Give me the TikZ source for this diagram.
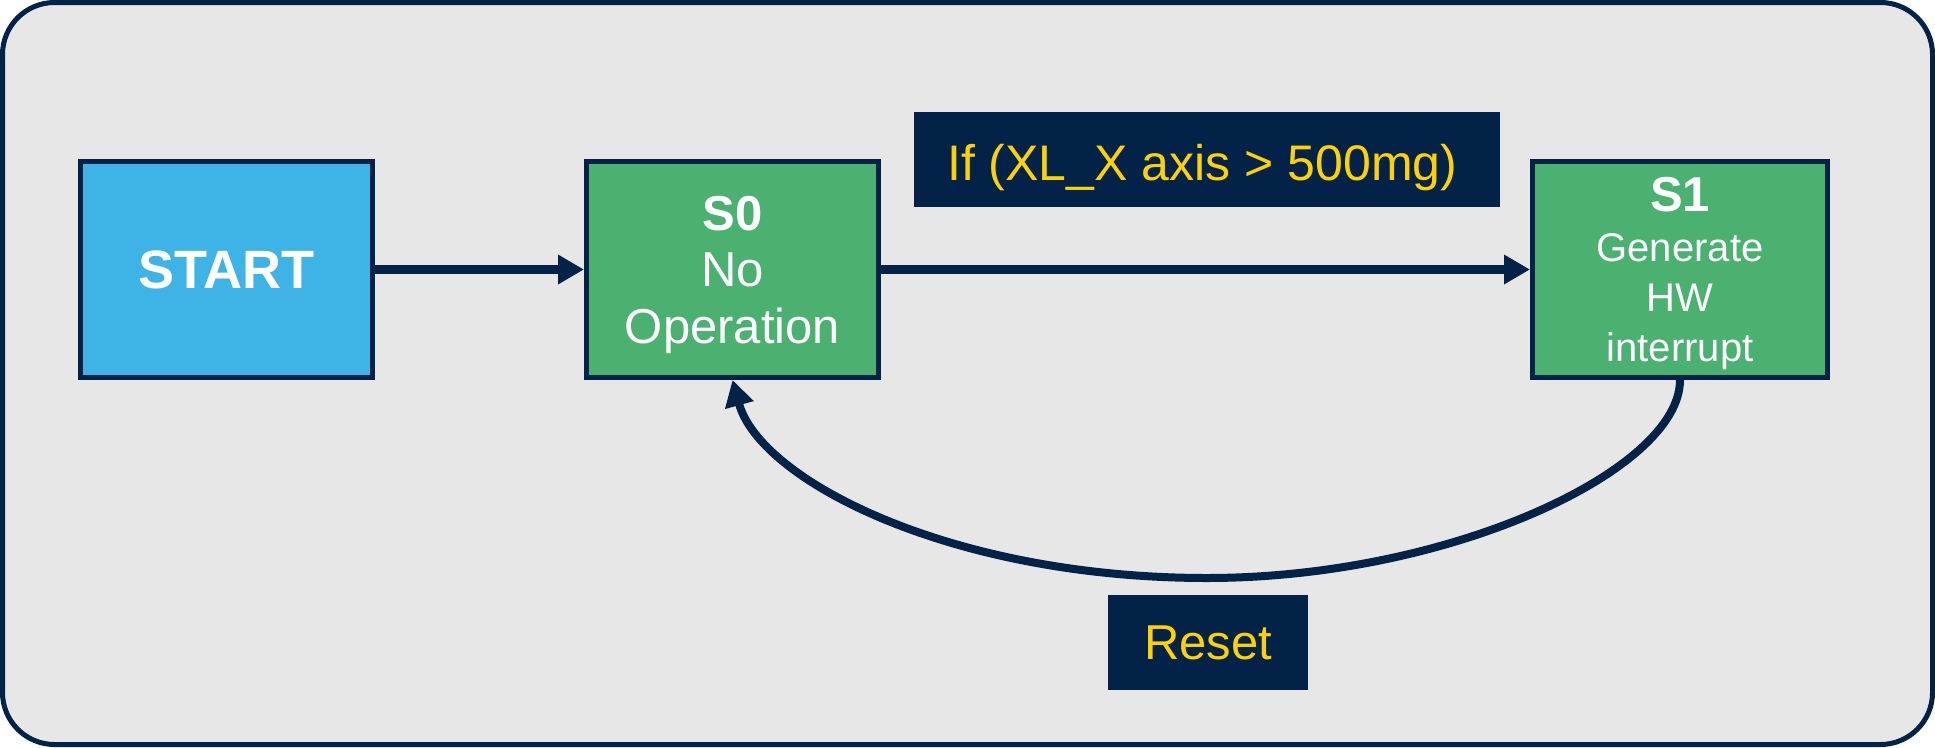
\documentclass[tikz,border=0pt]{standalone}
\usepackage{fontspec}
\setmainfont{Liberation Sans}
\usetikzlibrary{arrows.meta}
\definecolor{navy}{RGB}{2,34,71}
\definecolor{bggray}{RGB}{231,231,231}
\definecolor{startblue}{RGB}{61,180,229}
\definecolor{stategreen}{RGB}{74,177,113}
\definecolor{labelyellow}{RGB}{255,209,0}
\begin{document}
\begin{tikzpicture}[x=1pt,y=-1pt,
  box/.style={draw=navy, line width=5pt, inner sep=0pt, minimum height=216pt, text=white, align=center},
  lab/.style={fill=navy, text=labelyellow, inner sep=0pt, minimum height=95pt, text depth=0pt},
  conn/.style={draw=navy, line width=8.5pt, -{Triangle[length=26pt,width=28pt]}},
  loopconn/.style={draw=navy, line width=8pt, -{Triangle[length=26pt,width=28pt]}}
]
\useasboundingbox (0,0) rectangle (1935,747);
\draw[draw=navy, fill=bggray, line width=5pt, rounded corners=52pt] (2.5,2.5) rectangle (1932.5,744.5);

\node[box, fill=startblue, minimum width=292pt, font=\fontsize{54}{60}\selectfont\bfseries] (start) at (226.5,269.5) {START};
\node[box, fill=stategreen, minimum width=292pt, font=\fontsize{49}{56.5}\selectfont, text depth=0pt] (s0) at (732.5,269.5) {\textbf{S0}\\No\\Operation};
\node[box, fill=stategreen, minimum width=295pt, font=\fontsize{40}{50}\selectfont, text depth=0pt] (s1) at (1680,269.5) {{\fontsize{49}{50}\selectfont\bfseries S1}\\Generate\\HW\\interrupt};

\node[lab, minimum width=586pt] (cond) at (1207,159.5) {};
\node[text=labelyellow, inner sep=0pt, anchor=base west, font=\fontsize{50}{57}\selectfont] (condtext) at (947,180) {If (XL\_X axis > 500mg)};
\node[lab, minimum width=200pt, font=\fontsize{49}{57}\selectfont] (reset) at (1208,642.5) {Reset};

\draw[conn] (start.east) -- (s0.west);
\draw[conn] (s0.east) -- (s1.west);
\coordinate (loopbottom) at (1207,578);
\draw[loopconn] (s1.south) .. controls (1680,470) and (1450,578) .. (loopbottom)
  .. controls (950,578) and (760,480) .. (s0.south);
\end{tikzpicture}
\end{document}
